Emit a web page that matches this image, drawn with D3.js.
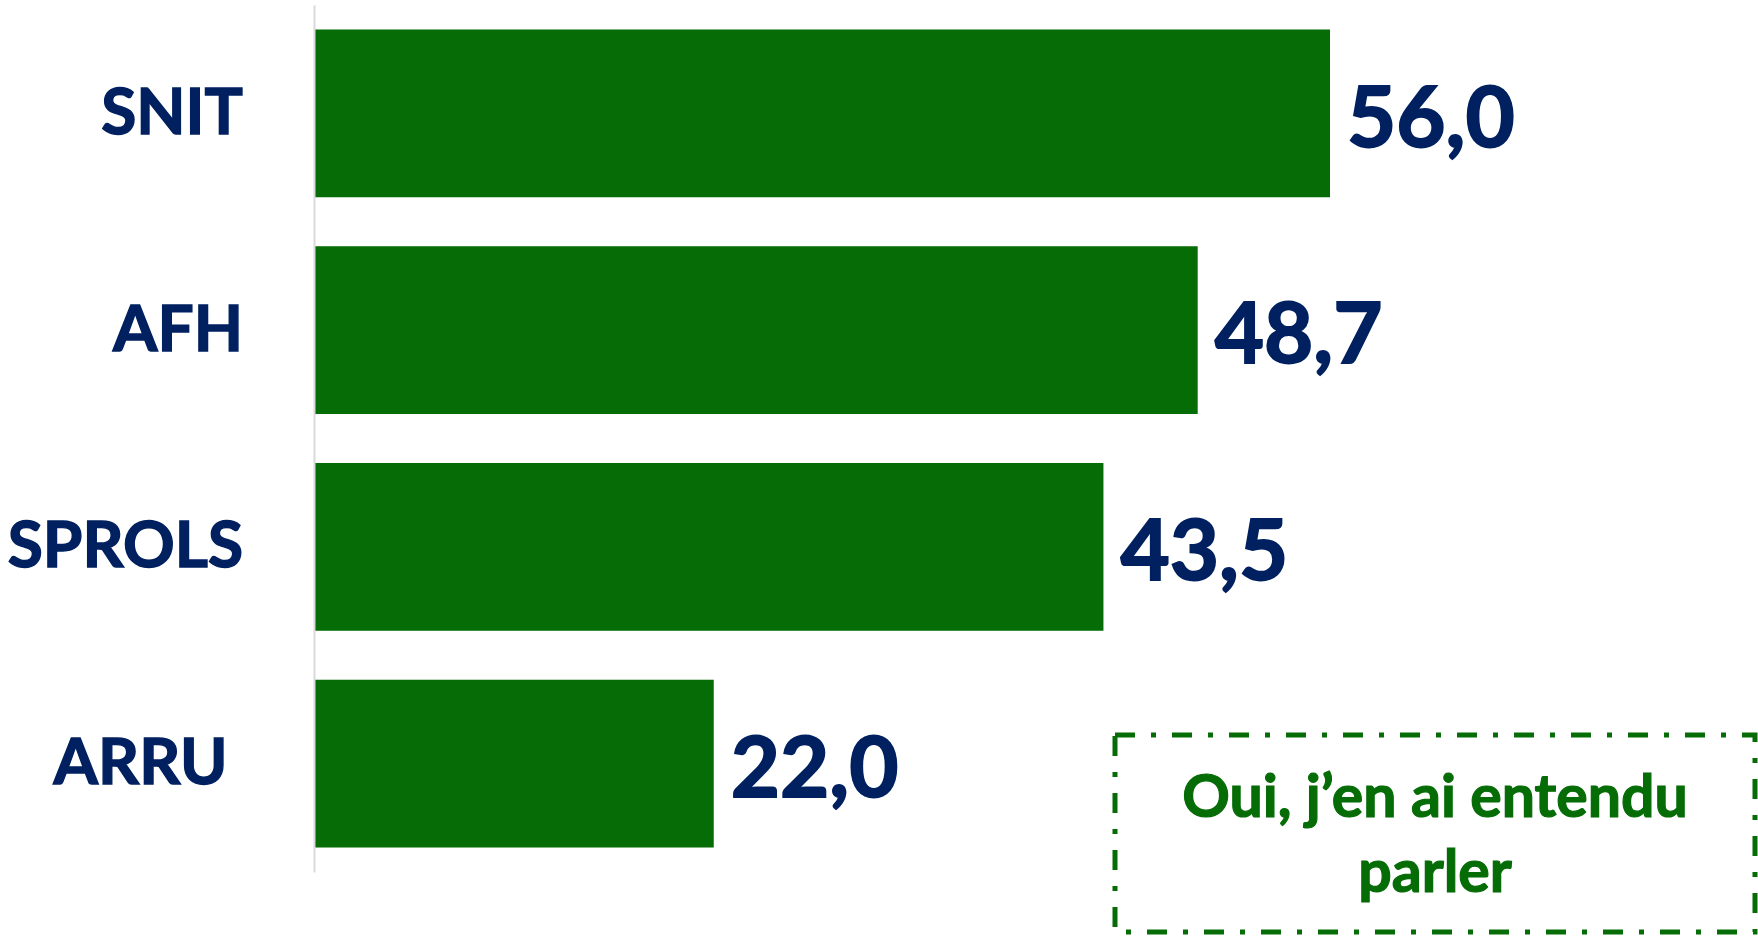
<!DOCTYPE html>
<html>
<head>
<meta charset="utf-8">
<script src="https://cdn.jsdelivr.net/npm/d3@7/dist/d3.min.js"></script>
<style>
  html, body { margin: 0; padding: 0; background: #ffffff; }
  svg { display: block; }
</style>
</head>
<body>
<svg id="chart" width="1758" height="938"></svg>
<script>
// Categories (top to bottom) and their values
const categories = ["SNIT", "AFH", "SPROLS", "ARRU\u00a0"];
const values = [56.0, 48.7, 43.5, 22.0];
const boxLines = ["Oui, j\u2019en ai entendu", "parler"];

const barColor = "#056c06";
const labelColor = "#002060";
const font = "Lato, 'Open Sans', sans-serif";

const svg = d3.select("#chart");

const y = d3.scaleBand()
  .domain(categories)
  .range([5, 872])
  .paddingInner(0.226)
  .paddingOuter(0.113);

const x = d3.scaleLinear()
  .domain([0, 60])
  .range([315, 1402.5]);

const data = categories.map((c, i) => ({ cat: c, value: values[i] }));

// Bars
svg.append("g")
  .selectAll("rect")
  .data(data)
  .join("rect")
  .attr("x", x(0))
  .attr("y", d => y(d.cat))
  .attr("width", d => x(d.value) - x(0))
  .attr("height", y.bandwidth())
  .attr("fill", barColor);

// Category axis
const axis = svg.append("g")
  .attr("transform", `translate(${x(0) - 1},0)`)
  .call(d3.axisLeft(y).tickSize(0).tickPadding(71));
axis.select(".domain")
  .attr("stroke", "#d9d9d9")
  .attr("stroke-width", 2);
axis.selectAll(".tick text")
  .attr("fill", labelColor)
  .attr("stroke", labelColor)
  .attr("stroke-width", 1.4)
  .attr("font-family", font)
  .attr("font-weight", 700)
  .attr("font-size", 64);

// Value labels
const fmt = v => d3.format(".1f")(v).replace(".", ",");
svg.append("g")
  .selectAll("text")
  .data(data)
  .join("text")
  .attr("x", d => x(d.value) + 17)
  .attr("y", d => y(d.cat) + y.bandwidth() / 2)
  .attr("dy", "0.39em")
  .attr("fill", labelColor)
  .attr("stroke", labelColor)
  .attr("stroke-width", 1.8)
  .attr("font-family", font)
  .attr("font-weight", 700)
  .attr("font-size", 85)
  .text(d => fmt(d.value));

// Legend-style note box
const box = { x: 1115, y: 735, w: 640, h: 197 };
svg.append("rect")
  .attr("x", box.x)
  .attr("y", box.y)
  .attr("width", box.w)
  .attr("height", box.h)
  .attr("fill", "none")
  .attr("stroke", barColor)
  .attr("stroke-width", 5)
  .attr("stroke-dasharray", "20,16,5,16");

svg.append("g")
  .selectAll("text")
  .data(boxLines)
  .join("text")
  .attr("x", box.x + box.w / 2)
  .attr("y", (d, i) => 817 + i * 75)
  .attr("text-anchor", "middle")
  .attr("fill", barColor)
  .attr("stroke", barColor)
  .attr("stroke-width", 1.2)
  .attr("font-family", font)
  .attr("font-weight", 700)
  .attr("font-size", 59)
  .text(d => d);
</script>
</body>
</html>
